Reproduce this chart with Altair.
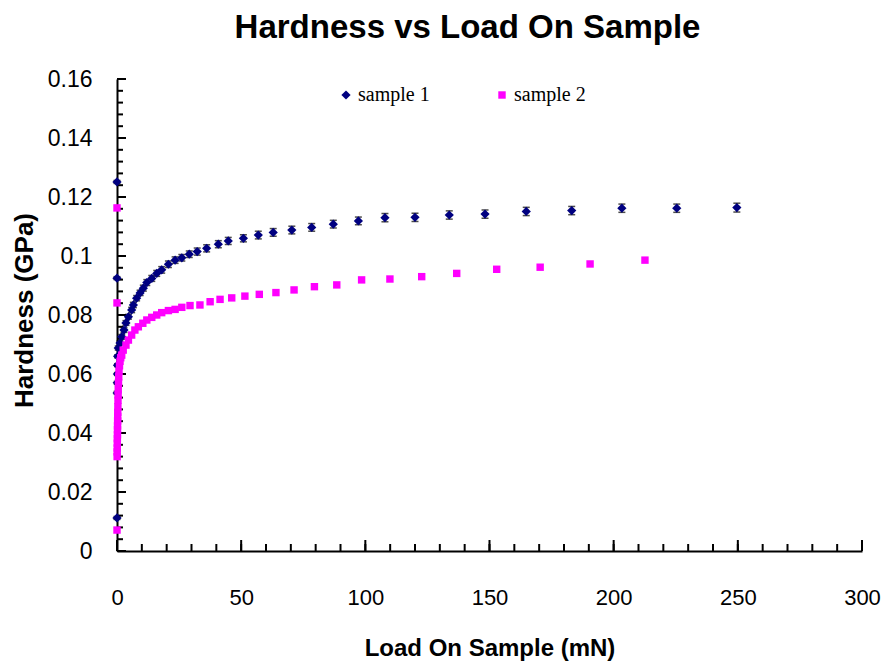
import altair as alt
import pandas as pd

series_names = ["sample 1", "sample 2"]
series_colors = ["#000080", "#FF00FF"]

# sample 1 (load mN, hardness GPa, error GPa)
s1_load = [0.0, 0.0, 0.0, 0.05, 0.1, 0.15, 0.2, 0.25, 0.5, 1.2, 1.9, 2.8, 3.6, 4.6, 5.9, 6.6,
           7.9, 9.3, 10.6, 12.0, 14.0, 16.0, 18.0, 20.7, 23.4, 26.1, 29.1, 32.3, 36.1, 40.8,
           44.8, 50.9, 56.9, 62.9, 70.4, 78.4, 87.1, 97.2, 107.9, 120.0, 133.8, 148.2, 164.8,
           183.1, 203.3, 225.4, 249.6]
s1_hard = [0.1251, 0.0925, 0.0112, 0.0536, 0.0570, 0.0600, 0.0630, 0.0660, 0.0688, 0.0705,
           0.0726, 0.0749, 0.0773, 0.0794, 0.0817, 0.0834, 0.0857, 0.0875, 0.0891, 0.0910,
           0.0924, 0.0941, 0.0953, 0.0972, 0.0986, 0.0994, 0.1006, 0.1015, 0.1026, 0.1040,
           0.1051, 0.1060, 0.1071, 0.1080, 0.1088, 0.1097, 0.1108, 0.1119, 0.1130, 0.1131,
           0.1139, 0.1142, 0.1151, 0.1154, 0.1162, 0.1162, 0.1164]
s1_err = [0.0005, 0.0005, 0.0005, 0.0005, 0.0005, 0.0005, 0.0005, 0.0005, 0.0007, 0.0007,
          0.0008, 0.0008, 0.0008, 0.0008, 0.0009, 0.0009, 0.0009, 0.0009, 0.0010, 0.0010,
          0.0010, 0.0010, 0.0011, 0.0011, 0.0011, 0.0011, 0.0011, 0.0012, 0.0012, 0.0012,
          0.0012, 0.0012, 0.0013, 0.0013, 0.0013, 0.0013, 0.0013, 0.0013, 0.0014, 0.0014,
          0.0014, 0.0014, 0.0014, 0.0014, 0.0014, 0.0014, 0.0015]

# sample 2
s2_load = [0.0, 0.0, 0.0,
           0.05, 0.08, 0.1, 0.12, 0.15, 0.18, 0.2, 0.22, 0.25, 0.28, 0.3, 0.35, 0.4, 0.45,
           0.5, 0.6, 0.7, 0.8, 1.0, 1.2, 1.5,
           1.9, 2.5, 3.6, 4.6, 5.9, 7.2, 8.6, 10.4, 12.0, 14.0, 16.0, 18.0, 20.7, 23.4, 26.1,
           29.4, 33.4, 37.5, 41.5, 46.2, 51.5, 57.3, 64.0, 71.3, 79.5, 88.5, 98.5, 109.9,
           122.7, 136.8, 152.9, 170.4, 190.5, 212.6]
s2_hard = [0.1163, 0.0841, 0.0071,
           0.0320, 0.0336, 0.0349, 0.0366, 0.0381, 0.0394, 0.0411, 0.0424, 0.0441, 0.0456,
           0.0470, 0.0489, 0.0511, 0.0529, 0.0549, 0.0571, 0.0590, 0.0609, 0.0628, 0.0643,
           0.0655,
           0.0664, 0.0681, 0.0698, 0.0715, 0.0732, 0.0749, 0.0760, 0.0772, 0.0783, 0.0792,
           0.0800, 0.0808, 0.0815, 0.0819, 0.0826, 0.0832, 0.0834, 0.0845, 0.0853, 0.0858,
           0.0864, 0.0870, 0.0876, 0.0885, 0.0896, 0.0902, 0.0919, 0.0922, 0.0930, 0.0941,
           0.0955, 0.0962, 0.0973, 0.0986]

# axis tick positions
x_labels = [0, 50, 100, 150, 200, 250, 300]
x_minor = [0, 10, 20, 30, 40, 50, 60, 70, 80, 90, 100, 110, 120, 130, 140, 150, 160, 170, 180,
           190, 200, 210, 220, 230, 240, 250, 260, 270, 280, 290, 300]
y_labels = [0, 0.02, 0.04, 0.06, 0.08, 0.1, 0.12, 0.14, 0.16]
y_minor = [round(i * 0.004, 3) for i in range(41)]

df1 = pd.DataFrame({"load": s1_load, "hard": s1_hard, "err": s1_err, "series": "sample 1"})
df1["lo"] = df1["hard"] - df1["err"]
df1["hi"] = df1["hard"] + df1["err"]
df2 = pd.DataFrame({"load": s2_load, "hard": s2_hard, "series": "sample 2"})
df = pd.concat([df1[["load", "hard", "series"]], df2], ignore_index=True)

W, H = 745, 472
FONT = "Liberation Sans"

xs = alt.Scale(domain=[0, 300], nice=False, zero=False)
ys = alt.Scale(domain=[0, 0.16], nice=False, zero=False)

x_axis = alt.Axis(
    values=x_labels, format="d", grid=False, ticks=False, labelFlush=False,
    domainColor="black", domainWidth=2, labelFont=FONT, labelFontSize=22,
    labelColor="black", labelPadding=46, labelBaseline="middle",
    title="Load On Sample (mN)", titleFont=FONT, titleFontSize=24,
    titleFontWeight="bold", titleColor="black", titleBaseline="alphabetic", titleY=104,
)
y_axis = alt.Axis(
    values=y_labels, grid=False, ticks=False, labelFlush=False,
    domainColor="black", domainWidth=2, labelFont=FONT, labelFontSize=23,
    labelColor="black", labelPadding=25, labelBaseline="middle", format="~g",
    title="Hardness (GPa)", titleFont=FONT, titleFontSize=26, titleFontWeight="bold",
    titleColor="black", titleBaseline="alphabetic",
    titleX=-85, titleY=231, titleAlign="center",
)

legend = alt.Legend(
    title=None, orient="none", legendX=219, legendY=6, direction="horizontal",
    labelFont="Liberation Serif", labelFontSize=20, labelColor="black",
    symbolSize=36, labelOffset=2, columnPadding=62, padding=0,
)

# axis ticks (inward)
ymaj = alt.Chart(pd.DataFrame({"v": y_labels})).mark_rule(color="black", strokeWidth=2).encode(
    y=alt.Y("v:Q", scale=ys), x=alt.value(0), x2=alt.value(9))
ymin = alt.Chart(pd.DataFrame({"v": y_minor})).mark_rule(color="black", strokeWidth=2).encode(
    y=alt.Y("v:Q", scale=ys), x=alt.value(0), x2=alt.value(6))
xmaj = alt.Chart(pd.DataFrame({"v": x_labels})).mark_rule(color="black", strokeWidth=2).encode(
    x=alt.X("v:Q", scale=xs), y=alt.value(H), y2=alt.value(H - 11))
xmin = alt.Chart(pd.DataFrame({"v": x_minor})).mark_rule(color="black", strokeWidth=2).encode(
    x=alt.X("v:Q", scale=xs), y=alt.value(H), y2=alt.value(H - 7))

# error bars for sample 1
eb_base = alt.Chart(df1)
eb_rule = eb_base.mark_rule(color="black", strokeWidth=1).encode(
    x=alt.X("load:Q", scale=xs), y=alt.Y("lo:Q", scale=ys), y2="hi:Q")
eb_lo = eb_base.mark_tick(color="black", orient="horizontal", size=7, thickness=1.5).encode(
    x=alt.X("load:Q", scale=xs), y=alt.Y("lo:Q", scale=ys))
eb_hi = eb_base.mark_tick(color="black", orient="horizontal", size=7, thickness=1.5).encode(
    x=alt.X("load:Q", scale=xs), y=alt.Y("hi:Q", scale=ys))

pts = alt.Chart(df).mark_point(filled=True, opacity=1, strokeWidth=0).encode(
    x=alt.X("load:Q", scale=xs, axis=x_axis),
    y=alt.Y("hard:Q", scale=ys, axis=y_axis),
    color=alt.Color("series:N", scale=alt.Scale(domain=series_names, range=series_colors),
                    legend=legend),
    shape=alt.Shape("series:N", scale=alt.Scale(domain=series_names, range=["diamond", "square"]),
                    legend=legend),
    size=alt.Size("series:N", scale=alt.Scale(domain=series_names, range=[85, 55]), legend=None),
)

chart = alt.layer(ymin, ymaj, xmin, xmaj, eb_rule, eb_lo, eb_hi, pts).properties(
    width=W, height=H,
    autosize=alt.AutoSizeParams(type="none"),
    padding={"left": 117, "top": 79, "right": 25, "bottom": 113},
    background="white",
    title=alt.TitleParams(
        text="Hardness vs Load On Sample", font=FONT, fontSize=33, fontWeight="bold",
        color="black", anchor="middle", dx=-22, dy=40, offset=37, baseline="alphabetic",
        frame="group",
    ),
).configure_view(stroke=None)

chart.save("out.html", embed_options={"renderer": "svg", "actions": False})
